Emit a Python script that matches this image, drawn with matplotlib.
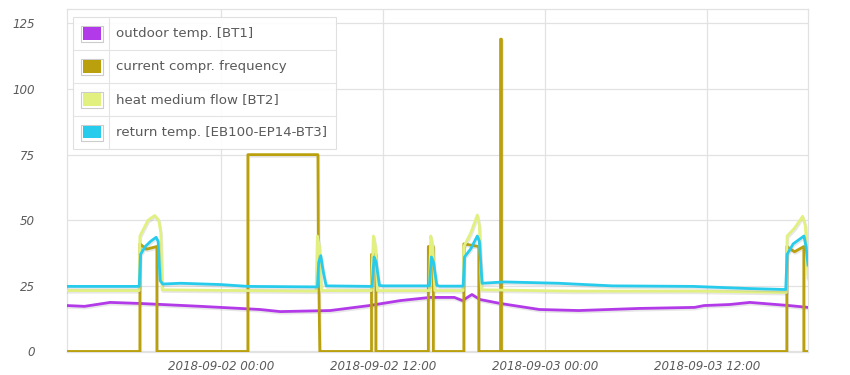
"""
Heat pump history chart: outdoor temp, compressor frequency, flow and return temps.
"""

import pandas as pd
import matplotlib
matplotlib.use("Agg")
import matplotlib.pyplot as plt
import matplotlib.dates as mdates
import matplotlib.patheffects as pe
from matplotlib.patches import Rectangle
from matplotlib.lines import Line2D

BASE = pd.Timestamp("2018-09-02 00:00")

# hours relative to 2018-09-02 00:00
OUTDOOR_H = [-11.4, -10.1, -8.2, -6.0, -1.5, 2.9, 4.4, 8.1, 11.0, 13.3, 15.5, 17.3, 17.9,
             18.6, 19.2, 20.7, 23.6, 26.5, 31.0, 35.1, 35.8, 37.7, 39.2, 42.1, 43.5]
OUTDOOR_V = [17.5, 17.2, 18.7, 18.3, 17.2, 16.0, 15.2, 15.6, 17.5, 19.4, 20.6, 20.6, 19.4,
             21.7, 19.8, 18.3, 16.0, 15.6, 16.4, 16.8, 17.5, 17.9, 18.7, 17.5, 16.8]

COMPR_H = [-11.4, -6.0, -6.0, -5.5, -4.74, -4.74, 2.0, 2.0, 7.19, 7.22, 7.33,
           11.16, 11.16, 11.48, 11.48, 15.37, 15.37, 15.74, 15.74, 18.0, 18.0, 19.11, 19.11,
           20.72, 20.72, 20.79, 20.79, 41.93, 41.93, 42.5, 43.19, 43.19, 43.5]
COMPR_V = [0, 0, 41, 39, 40, 0, 0, 75, 75, 40, 0,
           0, 37, 37, 0, 0, 40, 40, 0, 0, 41, 40, 0,
           0, 119, 119, 0, 0, 40, 38, 40, 0, 0]

FLOW_H = [-11.4, -6.05, -6.0, -5.8, -5.4, -4.9, -4.6, -4.45, -4.35, 2.0, 7.05, 7.15, 7.3, 7.45,
          11.15, 11.3, 11.45, 11.6, 15.45, 15.55, 15.7, 15.85, 17.95, 18.0, 18.5, 19.0, 19.15,
          19.3, 26.0, 35.0, 41.9, 41.95, 42.5, 43.1, 43.3, 43.5]
FLOW_V = [23.2, 23.2, 44, 46, 50, 51.8, 50, 45, 23.5, 23.2, 23.0, 44, 40, 23.2,
          23.2, 44, 40, 23.2, 23.2, 44, 40, 23.2, 23.2, 40, 45, 52, 48,
          23.5, 23.0, 23.0, 22.5, 44, 47, 51.5, 48, 28]

RETURN_H = [-11.4, -6.05, -5.95, -5.6, -5.2, -4.8, -4.65, -4.5, -4.3, -3.0, 0.0, 2.0, 7.15,
            7.25, 7.4, 7.6, 7.8, 11.2, 11.35, 11.5, 11.75, 12.0, 15.45, 15.6, 15.75, 16.0,
            16.2, 17.95, 18.05, 18.5, 19.0, 19.15, 19.35, 21.0, 25.0, 29.0, 35.0, 39.0,
            41.85, 41.95, 42.4, 43.2, 43.35, 43.5]
RETURN_V = [24.8, 24.8, 37, 40, 42, 43.5, 42, 27, 25.7, 26.0, 25.5, 24.8, 24.6,
            34, 36.5, 30, 25.0, 24.8, 36, 34, 25.2, 25.0, 25.0, 36, 34, 25.2,
            24.9, 24.9, 36, 39, 44, 42, 26.0, 26.5, 26.0, 25.0, 24.8, 24.0,
            23.6, 37, 41, 44, 40, 33]

SERIES = [
    ("outdoor temp. [BT1]", OUTDOOR_H, OUTDOOR_V, "#b23ae8"),
    ("current compr. frequency", COMPR_H, COMPR_V, "#b9a00c"),
    ("heat medium flow [BT2]", FLOW_H, FLOW_V, "#e2f080"),
    ("return temp. [EB100-EP14-BT3]", RETURN_H, RETURN_V, "#27cbec"),
]

Y_TICKS = [0, 25, 50, 75, 100, 125]
TEXT_C = "#5a5a5a"
GRID_C = "#e2e2e2"

W, H = 850, 375


def fx(px):
    return px / W


def fy(py):
    return 1 - py / H


def to_time(hours):
    return BASE + pd.to_timedelta(hours, unit="h")


fig = plt.figure(figsize=(8.5, 3.75), dpi=100)
ax = fig.add_axes([fx(67), fy(352), fx(808) - fx(67), fy(9) - fy(352)])

shadow = [pe.SimpleLineShadow(offset=(0.6, -1.2), shadow_color="#888888", alpha=0.2),
          pe.Normal()]
for name, hrs, vals, col in SERIES:
    ax.plot(to_time(hrs), vals, color=col, lw=2.0, solid_joinstyle="round",
            path_effects=shadow, zorder=3)

ax.set_xlim(to_time(-11.4), to_time(43.5))
ax.set_ylim(-0.2, 130.5)
ax.set_yticks(Y_TICKS)
ax.xaxis.set_major_locator(mdates.HourLocator(byhour=[0, 12]))
ax.xaxis.set_major_formatter(mdates.DateFormatter("%Y-%m-%d %H:%M"))
ax.grid(True, color=GRID_C, lw=0.9, zorder=0)
ax.tick_params(length=0, colors=TEXT_C, labelsize=8.6)
ax.tick_params(axis="y", pad=23)
ax.tick_params(axis="x", pad=6)
for lab in ax.get_xticklabels() + ax.get_yticklabels():
    lab.set_fontstyle("italic")
for s in ax.spines.values():
    s.set_color(GRID_C)
    s.set_linewidth(0.9)

# table-style legend in the upper left
lx0, lx1, ly0, ly1 = 73, 336, 17, 149
row_h = (ly1 - ly0) / 4
fig.patches.append(Rectangle((fx(lx0), fy(ly1)), fx(lx1) - fx(lx0), fy(ly0) - fy(ly1),
                             transform=fig.transFigure, facecolor="white", alpha=0.9,
                             edgecolor="#dddddd", lw=0.8, zorder=5))
fig.lines.append(Line2D([fx(109), fx(109)], [fy(ly0), fy(ly1)], transform=fig.transFigure,
                        color="#e4e4e4", lw=0.8, zorder=6))
for i, (name, hrs, vals, col) in enumerate(SERIES):
    cy = ly0 + row_h * (i + 0.5)
    if i > 0:
        yl = ly0 + row_h * i
        fig.lines.append(Line2D([fx(lx0), fx(lx1)], [fy(yl), fy(yl)],
                                transform=fig.transFigure, color="#e4e4e4", lw=0.8, zorder=6))
    fig.patches.append(Rectangle((fx(81), fy(cy + 8)), fx(22), fy(0) - fy(16),
                                 transform=fig.transFigure, facecolor="white",
                                 edgecolor="#cccccc", lw=0.8, zorder=6))
    fig.patches.append(Rectangle((fx(83), fy(cy + 6)), fx(18), fy(0) - fy(12),
                                 transform=fig.transFigure, facecolor=col,
                                 edgecolor="none", zorder=7))
    fig.text(fx(116), fy(cy), name, color=TEXT_C, fontsize=9.6, va="center", ha="left",
             zorder=7)

fig.savefig("out.png", dpi=100, facecolor="white")
